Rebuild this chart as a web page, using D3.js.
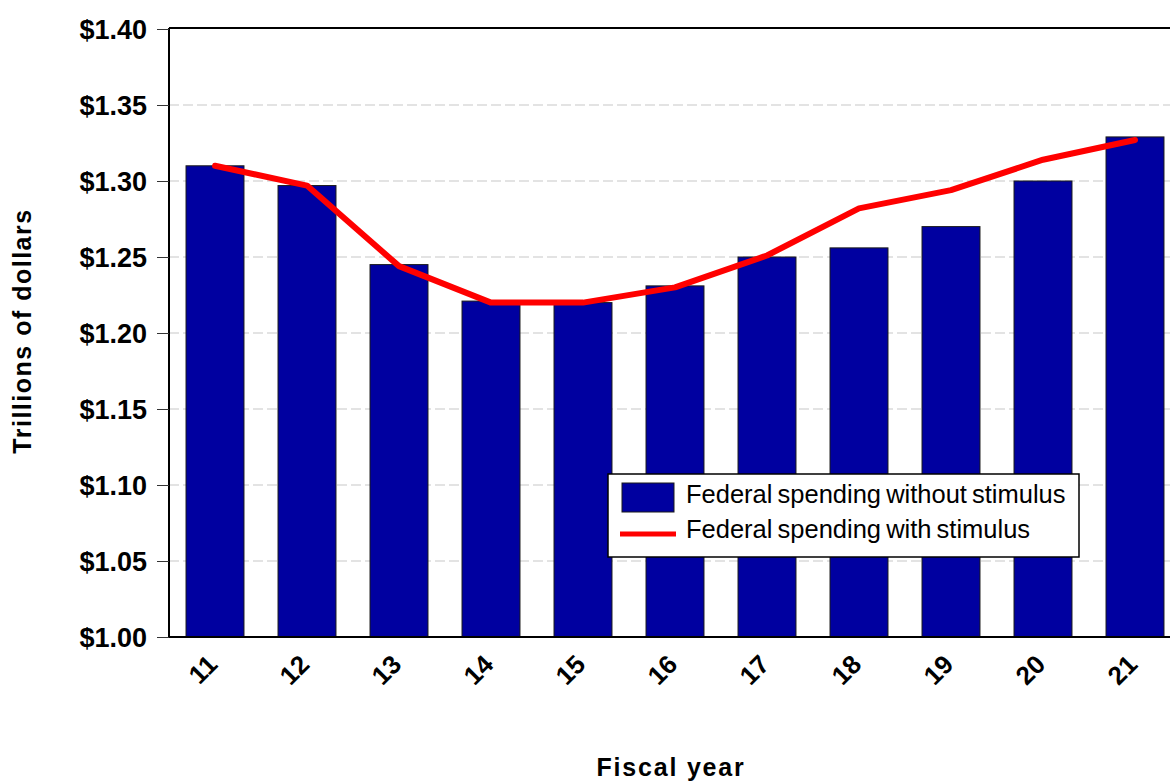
<!DOCTYPE html>
<html>
<head>
<meta charset="utf-8">
<script src="https://cdn.jsdelivr.net/npm/d3@7"></script>
<style>
  html, body { margin: 0; padding: 0; background: #fff; }
  svg { display: block; }
</style>
</head>
<body>
<svg id="chart" width="1170" height="784"></svg>
<script>
// Fiscal years (two-digit labels)
const years = ["11", "12", "13", "14", "15", "16", "17", "18", "19", "20", "21"];
// Federal spending without stimulus, trillions of dollars
const withoutStimulus = [1.310, 1.297, 1.245, 1.221, 1.220, 1.231, 1.250, 1.256, 1.270, 1.300, 1.329];
// Federal spending with stimulus, trillions of dollars
const withStimulus = [1.310, 1.297, 1.244, 1.220, 1.220, 1.230, 1.251, 1.282, 1.294, 1.314, 1.327];
// Y axis ticks
const yTicks = [1.00, 1.05, 1.10, 1.15, 1.20, 1.25, 1.30, 1.35, 1.40];

const svg = d3.select("#chart");
const plotLeft = 169, plotRight = 1181, plotTop = 29, plotBottom = 637;

const x = d3.scaleBand().domain(years).range([plotLeft, plotRight])
  .paddingInner(0.37).paddingOuter(0.185);
const y = d3.scaleLinear().domain([1.0, 1.4]).range([plotBottom, plotTop]);

// grid lines
svg.append("g").selectAll("line")
  .data(yTicks.filter(d => d > 1.0 && d < 1.4))
  .join("line")
  .attr("x1", plotLeft).attr("x2", 1170)
  .attr("y1", d => y(d)).attr("y2", d => y(d))
  .attr("stroke", "#c8c8c8").attr("stroke-width", 1.2)
  .attr("stroke-dasharray", "10,4");

// bars
svg.append("g").selectAll("rect")
  .data(years)
  .join("rect")
  .attr("x", d => x(d))
  .attr("y", (d, i) => y(withoutStimulus[i]))
  .attr("width", x.bandwidth())
  .attr("height", (d, i) => y(1.0) - y(withoutStimulus[i]))
  .attr("fill", "#0000a0")
  .attr("stroke", "#1a1a1a").attr("stroke-width", 1);

// line
const line = d3.line()
  .x((d, i) => x(years[i]) + x.bandwidth() / 2)
  .y(d => y(d));
svg.append("path")
  .datum(withStimulus)
  .attr("d", line)
  .attr("fill", "none")
  .attr("stroke", "#ff0000")
  .attr("stroke-width", 6)
  .attr("stroke-linejoin", "round")
  .attr("stroke-linecap", "round");

// frame: top border, left axis, bottom axis
svg.append("line").attr("x1", plotLeft).attr("x2", 1170).attr("y1", 28).attr("y2", 28)
  .attr("stroke", "#000").attr("stroke-width", 2);

const yAxis = d3.axisLeft(y).tickValues(yTicks)
  .tickFormat(d => "$" + d3.format(".2f")(d))
  .tickSize(12).tickPadding(10);
const gy = svg.append("g").attr("transform", `translate(${plotLeft},0)`).call(yAxis);
gy.select(".domain").attr("stroke", "#000").attr("stroke-width", 2)
  .attr("d", `M0,28V${plotBottom}`);
gy.selectAll(".tick line").attr("stroke", "#333").attr("stroke-width", 1);
gy.selectAll(".tick text")
  .attr("font-family", "Liberation Sans, Arial, sans-serif")
  .attr("font-size", 27).attr("font-weight", "bold").attr("fill", "#000")
  .attr("dy", "0.36em");

const xAxis = d3.axisBottom(x).tickSize(0).tickPadding(0);
const gx = svg.append("g").attr("transform", `translate(0,${plotBottom})`).call(xAxis);
gx.select(".domain").attr("stroke", "#000").attr("stroke-width", 2)
  .attr("d", `M${plotLeft},0H1170`);
gx.selectAll(".tick text")
  .attr("font-family", "Liberation Sans, Arial, sans-serif")
  .attr("font-size", 26).attr("font-weight", "bold").attr("fill", "#000")
  .attr("text-anchor", "end")
  .attr("dy", 0).attr("y", 0)
  .attr("transform", "translate(4,29) rotate(-45)");

// axis titles
svg.append("text")
  .attr("transform", "translate(31,331) rotate(-90)")
  .attr("text-anchor", "middle")
  .attr("font-family", "Liberation Sans, Arial, sans-serif")
  .attr("font-size", 25).attr("font-weight", "bold")
  .attr("letter-spacing", 1.5)
  .text("Trillions of dollars");

svg.append("text")
  .attr("x", 671).attr("y", 776)
  .attr("text-anchor", "middle")
  .attr("font-family", "Liberation Sans, Arial, sans-serif")
  .attr("font-size", 25).attr("font-weight", "bold")
  .attr("letter-spacing", 1.8)
  .text("Fiscal year");

// legend
const lg = svg.append("g");
lg.append("rect").attr("x", 608).attr("y", 474).attr("width", 471).attr("height", 83)
  .attr("fill", "#fff").attr("stroke", "#000").attr("stroke-width", 1.5);
lg.append("rect").attr("x", 622).attr("y", 483).attr("width", 52).attr("height", 29)
  .attr("fill", "#0000a0").attr("stroke", "#1a1a1a").attr("stroke-width", 1);
lg.append("line").attr("x1", 620).attr("x2", 676).attr("y1", 534).attr("y2", 534)
  .attr("stroke", "#ff0000").attr("stroke-width", 5);
const legendLabels = ["Federal spending without stimulus", "Federal spending with stimulus"];
lg.selectAll("text.lab").data(legendLabels).join("text")
  .attr("class", "lab")
  .attr("x", 686).attr("y", (d, i) => 503 + i * 35)
  .attr("font-family", "Liberation Sans, Arial, sans-serif")
  .attr("font-size", 25.5).attr("word-spacing", -2)
  .attr("fill", "#000")
  .text(d => d);
</script>
</body>
</html>
